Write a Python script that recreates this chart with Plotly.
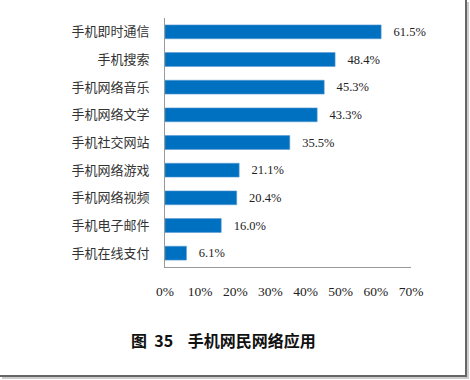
import plotly.graph_objects as go

categories = ["手机即时通信", "手机搜索", "手机网络音乐", "手机网络文学", "手机社交网站",
              "手机网络游戏", "手机网络视频", "手机电子邮件", "手机在线支付"]
values = [61.5, 48.4, 45.3, 43.3, 35.5, 21.1, 20.4, 16.0, 6.1]
tick_vals = [0, 10, 20, 30, 40, 50, 60, 70]
tick_text = ["0%", "10%", "20%", "30%", "40%", "50%", "60%", "70%"]
title_text = "图  35    手机网民网络应用"

cjk = "Noto Sans CJK SC"
serif = "Liberation Serif"

W, H = 470, 380
L, R, T, B = 165, 470 - 411, 18, 380 - 267
pw = W - L - R
ph = H - T - B

def px(xabs):
    return (xabs - L) / pw

def py(yabs):
    return (H - B - yabs) / ph

fig = go.Figure()
fig.add_trace(go.Bar(
    x=values, y=categories, orientation="h",
    marker=dict(color="#0070C0", line=dict(color="#5b9bd5", width=0.6)),
    text=["   %.1f%%" % v for v in values],
    textposition="outside", cliponaxis=False,
    textfont=dict(family=serif, size=14.5, color="#222222"),
))

fig.update_layout(
    width=W, height=H,
    margin=dict(l=L, r=R, t=T, b=B, autoexpand=False),
    paper_bgcolor="white", plot_bgcolor="white",
    bargap=0.5, showlegend=False,
    xaxis=dict(range=[0, 70], tickvals=tick_vals, ticktext=tick_text,
               showgrid=False, zeroline=False, showline=True, linecolor="#999999",
               linewidth=1, ticks="", ticklabelstandoff=12,
               tickfont=dict(family=serif, size=13.5, color="#222222")),
    yaxis=dict(autorange="reversed", showgrid=False, showline=True,
               linecolor="#999999", linewidth=1, ticks="", ticklabelstandoff=12,
               tickfont=dict(family=cjk, size=13, color="#333333")),
    annotations=[dict(text="<b>" + title_text + "</b>", x=px(223), y=py(340),
                      xref="paper", yref="paper", showarrow=False,
                      xanchor="center", yanchor="middle",
                      font=dict(family=cjk, size=16, color="#111111"))],
)

# screenshot frame (right & bottom dark edges with soft shadow)
fig.add_shape(type="line", xref="paper", yref="paper", x0=px(466), x1=px(466),
              y0=py(0), y1=py(377), line=dict(color="#666666", width=2))
fig.add_shape(type="line", xref="paper", yref="paper", x0=px(0), x1=px(467),
              y0=py(376), y1=py(376), line=dict(color="#666666", width=2))
fig.add_shape(type="line", xref="paper", yref="paper", x0=px(468), x1=px(468),
              y0=py(2), y1=py(379), line=dict(color="#cccccc", width=2))
fig.add_shape(type="line", xref="paper", yref="paper", x0=px(2), x1=px(469),
              y0=py(378), y1=py(378), line=dict(color="#cccccc", width=2))

fig.write_html("out.html", config={"displayModeBar": False},
               post_script="document.body.style.margin='0';document.body.style.overflow='hidden';")
